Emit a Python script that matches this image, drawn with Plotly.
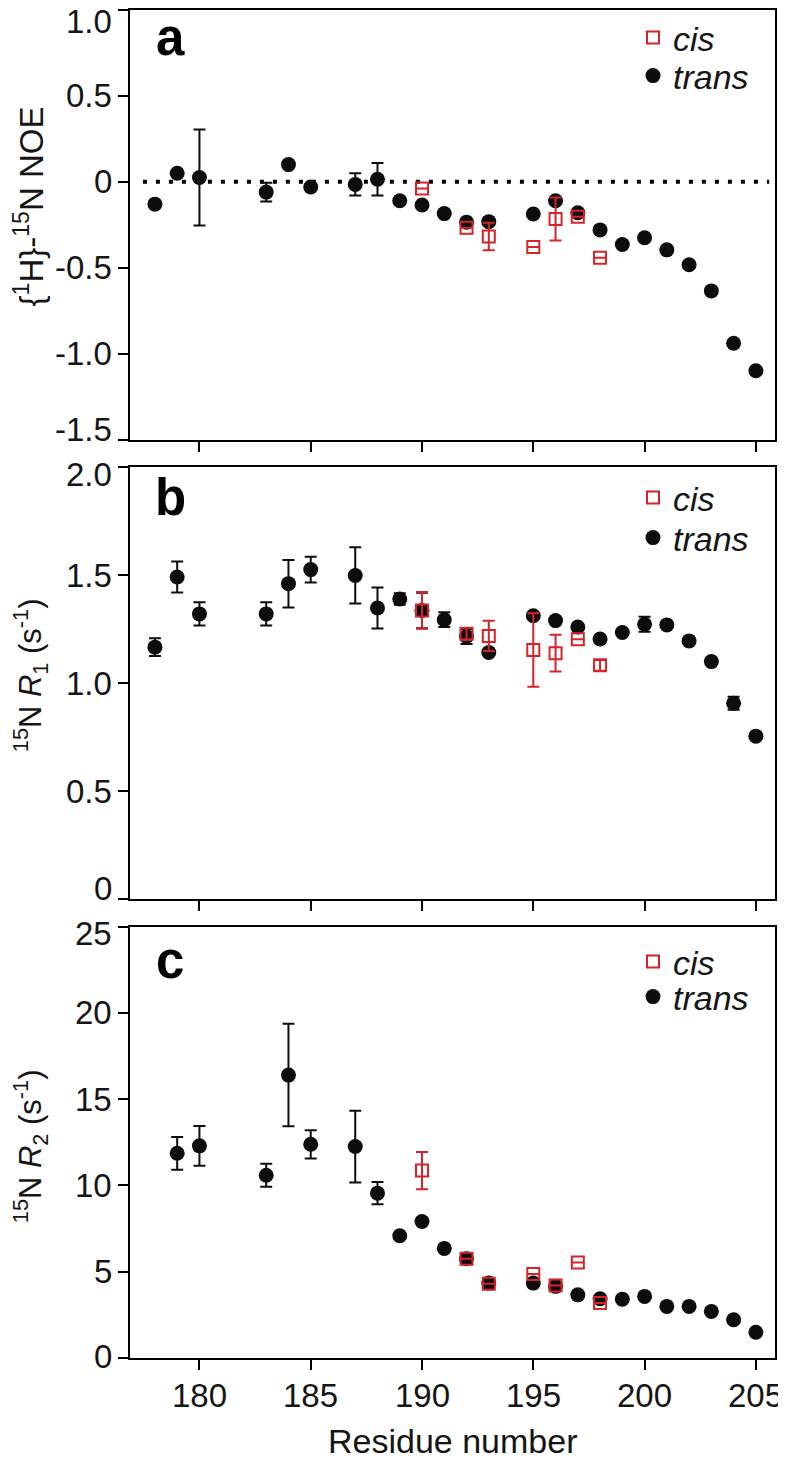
import plotly.graph_objects as go

# ---------------- data ----------------
# Panel a: {1H}-15N NOE
noe_trans_res = [178, 179, 180, 183, 184, 185, 187, 188, 189, 190, 191, 192, 193,
                 195, 196, 197, 198, 199, 200, 201, 202, 203, 204, 205]
noe_trans = [-0.13, 0.05, 0.025, -0.06, 0.10, -0.03, -0.015, 0.015, -0.11, -0.135,
             -0.185, -0.235, -0.232, -0.187, -0.11, -0.18, -0.28, -0.365, -0.326,
             -0.396, -0.483, -0.635, -0.94, -1.10]
noe_trans_err = [None, None, 0.28, 0.055, None, None, 0.065, 0.095, None, None,
                 None, None, None, None, None, None, None, None, None,
                 None, None, None, None, None]
noe_cis_res = [190, 192, 193, 195, 196, 197, 198]
noe_cis = [-0.039, -0.268, -0.318, -0.38, -0.216, -0.203, -0.442]
noe_cis_err = [None, None, 0.08, None, 0.125, None, None]

# Panel b: 15N R1
r1_trans_res = [178, 179, 180, 183, 184, 185, 187, 188, 189, 190, 191, 192, 193,
                195, 196, 197, 198, 199, 200, 201, 202, 203, 204, 205]
r1_trans = [1.166, 1.491, 1.320, 1.320, 1.460, 1.525, 1.498, 1.347, 1.389, 1.336,
            1.293, 1.215, 1.141, 1.311, 1.289, 1.259, 1.204, 1.234, 1.272, 1.269,
            1.195, 1.099, 0.906, 0.754]
r1_trans_err = [0.041, 0.072, 0.054, 0.054, 0.11, 0.06, 0.13, 0.095, 0.027, 0.082,
                0.034, 0.035, None, None, None, None, None, None, 0.035, None,
                None, None, 0.03, None]
r1_cis_res = [190, 192, 193, 195, 196, 197, 198]
r1_cis = [1.336, 1.228, 1.218, 1.153, 1.138, 1.203, 1.082]
r1_cis_err = [0.085, 0.027, 0.07, 0.17, 0.085, None, 0.025]

# Panel c: 15N R2
r2_trans_res = [179, 180, 183, 184, 185, 187, 188, 189, 190, 191, 192, 193,
                195, 196, 197, 198, 199, 200, 201, 202, 203, 204, 205]
r2_trans = [11.86, 12.29, 10.59, 16.39, 12.38, 12.25, 9.55, 7.08, 7.91, 6.35, 5.75,
            4.34, 4.34, 4.15, 3.66, 3.43, 3.41, 3.57, 2.99, 2.99, 2.70, 2.22, 1.49]
r2_trans_err = [0.95, 1.15, 0.67, 2.97, 0.82, 2.08, 0.64, None, None, None, None,
                None, None, None, None, None, None, None, None, None, None, None, None]
r2_cis_res = [190, 192, 193, 195, 196, 197, 198]
r2_cis = [10.86, 5.75, 4.30, 4.86, 4.20, 5.54, 3.18]
r2_cis_err = [1.08, None, None, None, None, None, None]

x_ticks = [180, 185, 190, 195, 200, 205]
x_ticktext = ["180", "185", "190", "195", "200", "205"]
a_ticks = [1.0, 0.5, 0, -0.5, -1.0, -1.5]
a_ticktext = ["1.0", "0.5", "0", "-0.5", "-1.0", "-1.5"]
b_ticks = [2.0, 1.5, 1.0, 0.5, 0]
b_ticktext = ["2.0", "1.5", "1.0", "0.5", "0"]
c_ticks = [25, 20, 15, 10, 5, 0]
c_ticktext = ["25", "20", "15", "10", "5", "0"]

# ---------------- geometry / styling ----------------
# The page body has an 8px margin; positions below are given in page pixels.
OFF = 8
W, H = 786 - OFF, 1465 - OFF
L, R, T = 122, 11, 2
PLOT_H = 1348
B = H - T - PLOT_H
PW, PH = W - L - R, PLOT_H
FONT = "Liberation Sans, Arial, Helvetica, sans-serif"
RED = "#d5232a"
BLK = "#0d0d0d"
TXT = "#151515"


def px_x(p):
    return (p - OFF - L) / PW


def px_y(p):
    return (H - B - (p - OFF)) / PH


fig = go.Figure()

panels = [
    ("x", "y", noe_trans_res, noe_trans, noe_trans_err, noe_cis_res, noe_cis, noe_cis_err,
     ("legend", "legend2")),
    ("x2", "y2", r1_trans_res, r1_trans, r1_trans_err, r1_cis_res, r1_cis, r1_cis_err,
     ("legend3", "legend4")),
    ("x3", "y3", r2_trans_res, r2_trans, r2_trans_err, r2_cis_res, r2_cis, r2_cis_err,
     ("legend5", "legend6")),
]

for xa, ya, tr, tv, te, cr, cv, ce, (lg_t, lg_c) in panels:
    fig.add_trace(go.Scatter(
        x=tr, y=tv, mode="markers", name="<i>trans</i>", xaxis=xa, yaxis=ya, legend=lg_t,
        marker=dict(symbol="circle", size=15, color=BLK),
        error_y=dict(type="data", array=te, visible=True, color=BLK, thickness=2, width=6),
    ))
    fig.add_trace(go.Scatter(
        x=cr, y=cv, mode="markers", name="<i>cis</i>", xaxis=xa, yaxis=ya, legend=lg_c,
        marker=dict(symbol="square-open", size=12, color=RED, line=dict(width=2, color=RED)),
        error_y=dict(type="data", array=ce, visible=True, color=RED, thickness=2, width=6),
    ))

axis_common = dict(
    showline=True, linecolor="black", linewidth=2, mirror=True,
    ticks="outside", ticklen=10, tickwidth=2, tickcolor="black",
    showgrid=False, zeroline=False, showticklabels=False, automargin=False,
    tickmode="array",
)

xr = [176.88, 205.86]
layout = dict(
    template="none",
    width=W, height=H,
    margin=dict(l=L, r=R, t=T, b=B, pad=0, autoexpand=False),
    paper_bgcolor="white", plot_bgcolor="white",
    showlegend=True,
    font=dict(family=FONT, color=TXT),
    xaxis=dict(axis_common, range=xr, tickvals=x_ticks, anchor="y", domain=[0, 1]),
    xaxis2=dict(axis_common, range=xr, tickvals=x_ticks, anchor="y2", domain=[0, 1]),
    xaxis3=dict(axis_common, range=xr, tickvals=x_ticks, anchor="y3", domain=[0, 1]),
    yaxis=dict(axis_common, range=[-1.5, 1.0], tickvals=a_ticks, anchor="x",
               domain=[px_y(439.5), px_y(10)]),
    yaxis2=dict(axis_common, range=[0, 2.0], tickvals=b_ticks, anchor="x2",
                domain=[px_y(899), px_y(467)]),
    yaxis3=dict(axis_common, range=[0, 25], tickvals=c_ticks, anchor="x3",
                domain=[px_y(1358), px_y(926.5)]),
)

# one legend per entry so each row can sit exactly where the reference has it
legend_common = dict(
    xanchor="left", yanchor="middle",
    bgcolor="rgba(0,0,0,0)", borderwidth=0,
    font=dict(family=FONT, size=34, color=TXT),
    itemclick=False, itemdoubleclick=False,
)
legend_rows = {"legend2": 38, "legend": 76, "legend4": 498, "legend3": 538,
               "legend6": 962, "legend5": 997}
for name, yc in legend_rows.items():
    layout[name] = dict(legend_common, x=px_x(633), y=px_y(yc))

fig.update_layout(**layout)

# dotted zero line in panel a
fig.add_shape(type="line", xref="x", yref="y", x0=177.46, x1=205.6, y0=0, y1=0,
              line=dict(color="black", width=4, dash="4px,9px"), layer="below")

# y tick labels (end labels are nudged inward, as in the reference)
TICK_FS = 33
label_shift = {
    "y": {1.0: -11.8, -1.5: 10},
    "y2": {2.0: -7.3, 0: 11},
    "y3": {25: -7.3, 0: 2},
}
for ya, vals, texts in [("y", a_ticks, a_ticktext), ("y2", b_ticks, b_ticktext),
                        ("y3", c_ticks, c_ticktext)]:
    for v, t in zip(vals, texts):
        fig.add_annotation(text=t, xref="paper", yref=ya, x=px_x(112.5), y=v,
                           xanchor="right", yanchor="middle", showarrow=False,
                           borderpad=0, yshift=label_shift[ya].get(v, 0),
                           font=dict(family=FONT, size=TICK_FS, color=TXT))

# x tick labels (bottom panel only)
for v, t in zip(x_ticks, x_ticktext):
    fig.add_annotation(text=t, xref="x3", yref="paper", x=v, y=px_y(1395),
                       xanchor="center", yanchor="middle", showarrow=False,
                       borderpad=0, font=dict(family=FONT, size=TICK_FS, color=TXT))

# panel letters
for letter, base in [("a", 55), ("b", 515), ("c", 978)]:
    fig.add_annotation(text="<b>%s</b>" % letter, xref="paper", yref="paper",
                       x=px_x(170), y=px_y(base - 0.35 * 51), xanchor="center",
                       yanchor="middle", showarrow=False,
                       font=dict(family=FONT, size=51, color="black"))

# y-axis titles
ytitles = [
    ("{<sup>1</sup>H}-<sup>15</sup>N NOE", 206, 33),
    ("<sup>15</sup>N <i>R</i><sub>1</sub> (s<sup>-1</sup>)", 675, 31),
    ("<sup>15</sup>N <i>R</i><sub>2</sub> (s<sup>-1</sup>)", 1146, 31),
]
for txt, yc, fs in ytitles:
    fig.add_annotation(text=txt, xref="paper", yref="paper", x=px_x(41 - 0.35 * fs),
                       y=px_y(yc), xanchor="center", yanchor="middle", textangle=-90,
                       showarrow=False, borderpad=0,
                       font=dict(family=FONT, size=fs, color=TXT))

# x-axis title
fig.add_annotation(text="Residue number", xref="paper", yref="paper",
                   x=px_x(452.5), y=px_y(1441.5), xanchor="center", yanchor="middle",
                   showarrow=False, borderpad=0, font=dict(family=FONT, size=34, color=TXT))

fig.write_html("out.html")
